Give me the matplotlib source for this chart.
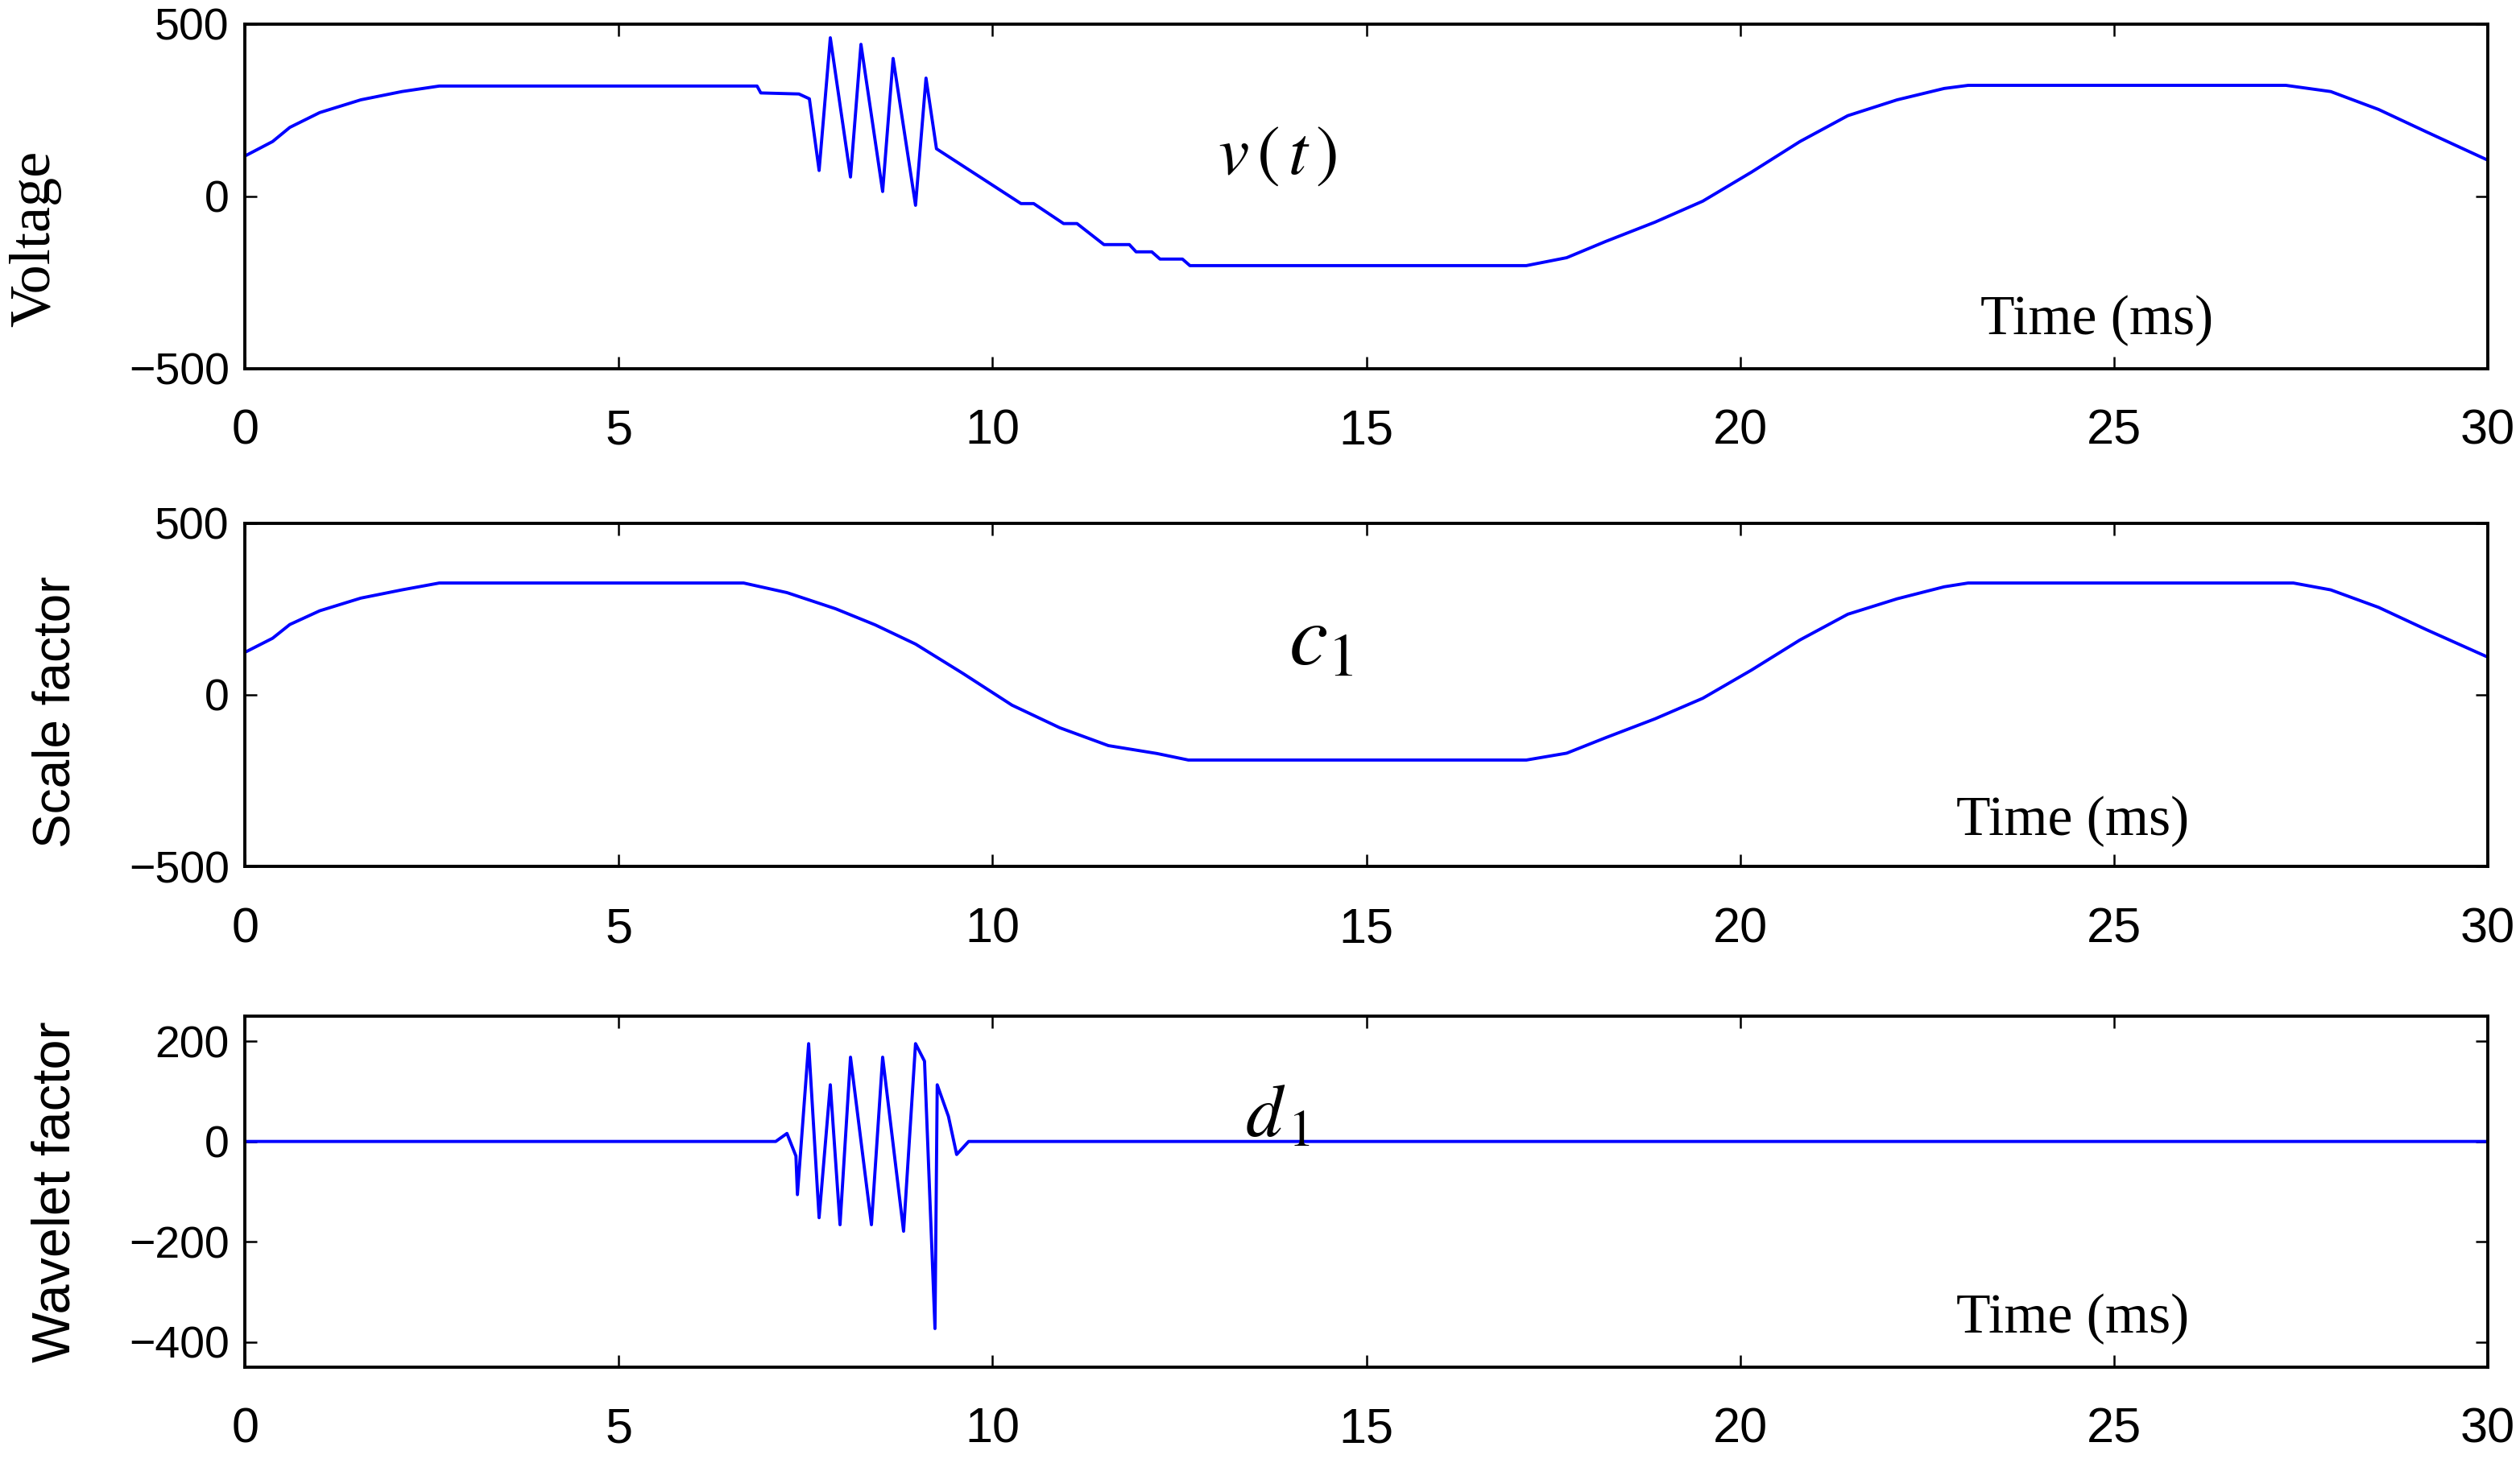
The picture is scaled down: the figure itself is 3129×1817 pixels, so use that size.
import numpy as np
import matplotlib.pyplot as plt

plt.rcParams["mathtext.fontset"] = "stix"

# --- data (time in ms) ---
t_v = [0, 0.37, 0.6, 1.0, 1.55, 2.1, 2.6, 6.85, 6.9, 7.41, 7.55, 7.68, 7.83,
       8.10, 8.24, 8.53, 8.67, 8.97, 9.11, 9.25, 10.38, 10.55, 10.95, 11.13,
       11.49, 11.83, 11.92, 12.13, 12.24, 12.54, 12.64, 17.14, 17.68, 18.2,
       18.86, 19.5, 20.15, 20.8, 21.44, 22.1, 22.73, 23.05, 27.3, 27.9,
       28.54, 29.18, 30]
voltage = [117, 159, 200, 243, 280, 304, 320, 320, 300, 297, 283, 75, 460,
           56, 441, 14, 400, -26, 343, 138, -21, -21, -79, -79,
           -140, -140, -161, -161, -182, -182, -201, -201, -178, -131,
           -75, -14, 70, 159, 234, 280, 313, 322, 322, 304,
           252, 187, 105]

t_c = [0, 0.37, 0.6, 1.0, 1.55, 2.1, 2.6, 6.67, 7.25, 7.9, 8.43, 8.97, 9.6,
       10.26, 10.9, 11.55, 12.2, 12.62, 17.14, 17.68, 18.2, 18.86, 19.5,
       20.15, 20.8, 21.44, 22.1, 22.73, 23.05, 27.4, 27.9, 28.54, 29.18, 30]
scale_c1 = [124, 165, 205, 245, 282, 306, 326, 326, 298, 251, 204, 148, 63,
            -30, -96, -148, -171, -190, -190, -170, -125, -70, -10,
            72, 160, 235, 280, 315, 326, 326, 306, 255, 190, 110]

t_d = [0, 7.10, 7.25, 7.37, 7.39, 7.54, 7.68, 7.83, 7.96, 8.10, 8.38, 8.53,
       8.81, 8.97, 9.09, 9.23, 9.26, 9.41, 9.52, 9.68, 30]
wavelet_d1 = [0, 0, 16, -29, -106, 195, -152, 113, -166, 168, -166, 168,
              -179, 195, 160, -373, 113, 50, -26, 0, 0]

x_ticks = [0, 5, 10, 15, 20, 25, 30]

panels = [
    (t_v, voltage, "Voltage", [-500, 500], [-500, 0, 500],
     r"$v\,\left(\,t\,\right)$", [0.0972, 0.748, 0.890, 0.2356]),
    (t_c, scale_c1, "Scale factor", [-500, 500], [-500, 0, 500], r"$c_1$",
     [0.0972, 0.4078, 0.890, 0.2345]),
    (t_d, wavelet_d1, "Wavelet factor", [-450, 250], [-400, -200, 0, 200],
     r"$d_{\,1}$", [0.0972, 0.0655, 0.890, 0.240]),
]
name_pos = [(1586, 192), (1640, 795), (1586, 1385)]
name_size = [62, 78, 66]
time_pos = [(2604, 398), (2574, 1020), (2574, 1638)]
ylab_pos = [(44, 296), (70, 884), (70, 1480)]
ylab_size = [52, 46, 48]

fig = plt.figure(figsize=(31.29, 18.17), dpi=100)
W, H = 3129, 1817

for i, (t, y, ylab, ylim, yticks, name, rect) in enumerate(panels):
    ax = fig.add_axes(rect)
    ax.plot(t, y, color="#0000ff", lw=2.8)
    ax.set_xlim(0, 30)
    ax.set_ylim(*ylim)
    ax.set_xticks(x_ticks)
    ax.set_yticks(yticks)
    ax.set_yticklabels([str(v).replace("-", "\u2212") for v in yticks],
                       family=["Liberation Sans", "DejaVu Sans"], fontsize=40)
    ax.set_xticklabels([str(v) for v in x_ticks],
                       family="Liberation Sans", fontsize=44)
    ax.tick_params(direction="in", top=True, right=True, length=11, width=1.8)
    ax.tick_params(axis="x", pad=36)
    ax.tick_params(axis="y", pad=14)
    for s in ax.spines.values():
        s.set_linewidth(2.8)

    fam = ["Liberation Serif"] if i == 0 else ["Liberation Sans"]
    fig.text(ylab_pos[i][0] / W, 1 - ylab_pos[i][1] / H, ylab, rotation=90,
             ha="center", va="center", fontsize=ylab_size[i], family=fam)

    fig.text(name_pos[i][0] / W, 1 - name_pos[i][1] / H, name,
             ha="center", va="center", fontsize=name_size[i])
    fig.text(time_pos[i][0] / W, 1 - time_pos[i][1] / H, "Time (ms)",
             ha="center", va="center", fontsize=50, family="Liberation Serif")

fig.savefig("out.png", dpi=100)
